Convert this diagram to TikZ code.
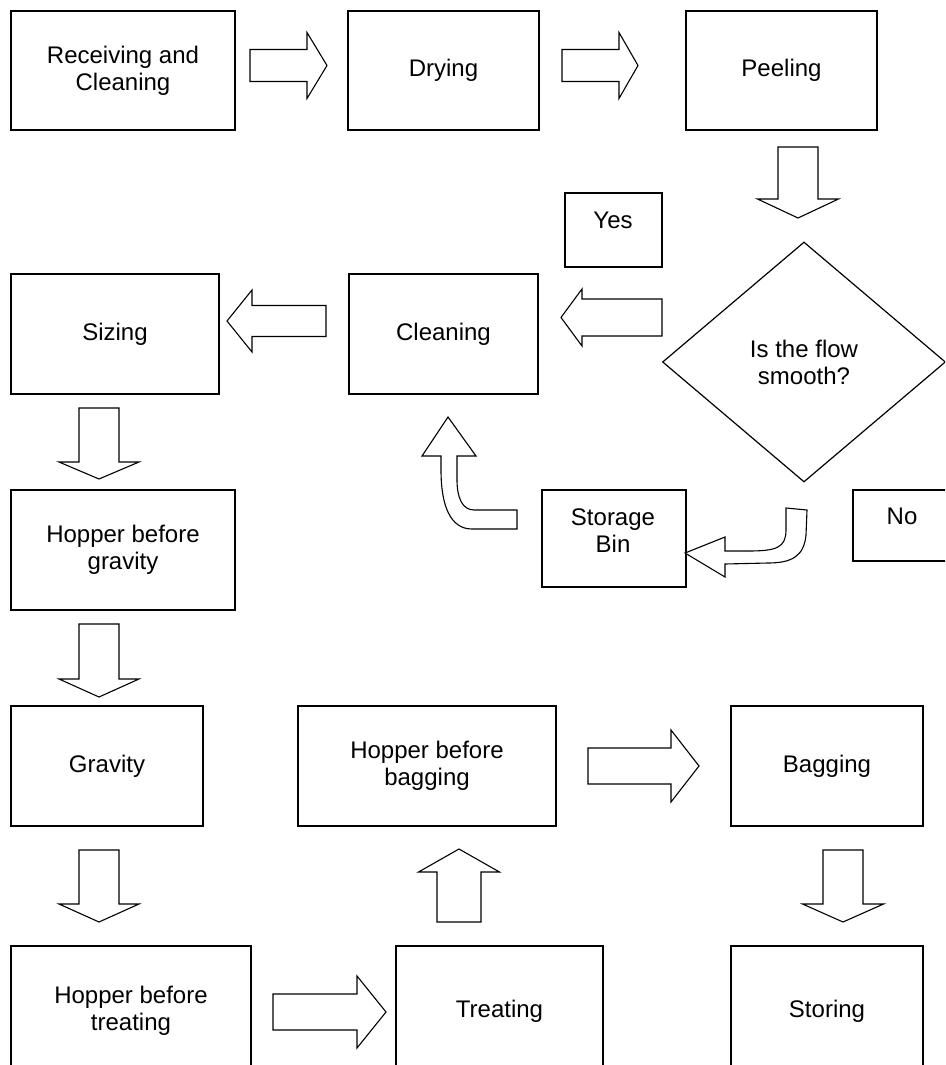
\documentclass[tikz,border=0pt]{standalone}
\usepackage{fontspec}
\setmainfont{Liberation Sans}
\usetikzlibrary{shapes.geometric}
\newcommand{\harrow}[6]{\draw[blockarr] (#1,#4-#5) -- (#2,#4-#5) -- (#2,#4-#6) -- (#3,#4) -- (#2,#4+#6) -- (#2,#4+#5) -- (#1,#4+#5) -- cycle;}
\newcommand{\varrow}[6]{\draw[blockarr] (#4-#5,#1) -- (#4-#5,#2) -- (#4-#6,#2) -- (#4,#3) -- (#4+#6,#2) -- (#4+#5,#2) -- (#4+#5,#1) -- cycle;}
\begin{document}
\begin{tikzpicture}[x=1pt,y=-1pt,
  box/.style={draw, line width=1.2pt, rectangle, inner sep=0pt, align=center, font=\fontsize{24}{27}\selectfont},
  lbl/.style={inner sep=0pt, align=center, font=\fontsize{24}{27}\selectfont},
  blockarr/.style={draw, line width=1.1pt, line join=miter, fill=white}]
\useasboundingbox (0,0) rectangle (945,1065);
\clip (0,0) rectangle (945,1065);
% top row
\node[box, minimum width=224pt, minimum height=119pt] (recv) at (123,70.5) {Receiving and\\Cleaning};
\node[box, minimum width=191pt, minimum height=119pt] (dry) at (443.5,70.5) {Drying};
\node[box, minimum width=191pt, minimum height=119pt] (peel) at (781.5,70.5) {Peeling};
% second row
\node[box, minimum width=97pt, minimum height=74pt] (yesbox) at (613.5,230) {};
\node[lbl] (yes) at (613,220) {Yes};
\node[box, minimum width=208pt, minimum height=120pt] (sizing) at (115,334) {Sizing};
\node[box, minimum width=189pt, minimum height=120pt] (clean) at (443.5,334) {Cleaning};
\node[draw, line width=1.2pt, diamond, minimum width=283pt, minimum height=240pt, inner sep=0pt, align=center, font=\fontsize{24}{27}\selectfont] (dec) at (804,362) {Is the flow\\smooth?};
% third row
\node[box, minimum width=224pt, minimum height=120pt] (hopg) at (123,550) {Hopper before\\gravity};
\node[box, minimum width=144pt, minimum height=97pt] (binbox) at (614,538.5) {};
\node[lbl] (bin) at (613,531) {Storage\\Bin};
\node[box, minimum width=107pt, minimum height=71pt] (nobox) at (906.5,525.5) {};
\node[lbl] (no) at (902,516) {No};
% fourth row
\node[box, minimum width=192pt, minimum height=120pt] (grav) at (107,766) {Gravity};
\node[box, minimum width=258pt, minimum height=120pt] (hopb) at (427,766) {Hopper before\\bagging};
\node[box, minimum width=192pt, minimum height=120pt] (bag) at (827,766) {Bagging};
% bottom row
\node[box, minimum width=240pt, minimum height=130pt] (hopt) at (131,1011) {Hopper before\\treating};
\node[box, minimum width=207pt, minimum height=130pt] (treat) at (499.5,1011) {Treating};
\node[box, minimum width=192pt, minimum height=130pt] (store) at (827,1011) {Storing};
% straight block arrows
\harrow{250}{307}{327}{65.5}{16}{33}
\harrow{562}{619}{638}{65.5}{16}{33}
\varrow{147}{199}{218}{798}{20}{40.5}
\harrow{662}{582}{561}{317.5}{18.5}{28.5}
\harrow{326}{252}{227}{321}{15.5}{31}
\varrow{408}{462}{479}{99}{20}{40}
\varrow{624}{679}{697}{99}{20}{40}
\varrow{850}{904}{922}{99}{20}{40}
\varrow{922}{872}{849}{459}{22}{40.5}
\harrow{588}{671}{699}{766}{18}{36}
\varrow{850}{904}{922}{843}{20}{40.5}
\harrow{273}{357}{386}{1012}{18}{36}
% curved arrow: storage bin -> cleaning
\draw[blockarr] (448,417) -- (476,456) -- (457,456) -- (457,480)
  .. controls (457,497) and (462,510) .. (474,510) -- (517,510) -- (517,529) -- (472,529)
  .. controls (450,529) and (441,505) .. (441,470) -- (441,456) -- (422,456) -- cycle;
% curved arrow: decision -> storage bin
\draw[blockarr] (685,553) -- (725,537) -- (725,551) -- (748,551)
  .. controls (776,551) and (786,548) .. (786,530) -- (786,508) -- (807,510) -- (806,535)
  .. controls (804,556) and (792,563) .. (768,563) -- (725,564) -- (725,577) -- cycle;
\end{tikzpicture}
\end{document}
